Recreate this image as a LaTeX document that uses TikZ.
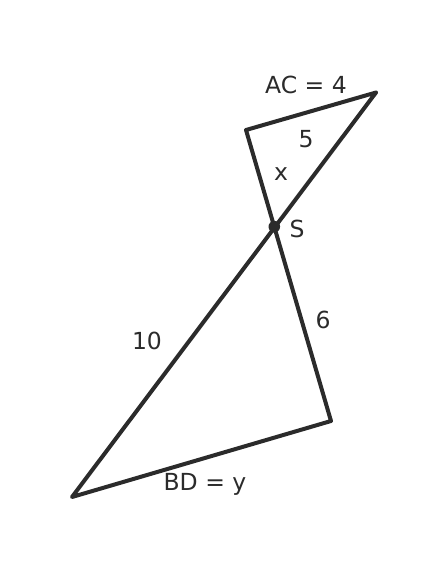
\documentclass[tikz,border=0pt]{standalone}
\usepackage{fontspec}
\setmainfont{DejaVu Sans}
\definecolor{ink}{HTML}{2B2B2B}
\begin{document}
\begin{tikzpicture}[x=1pt,y=-1pt,
  seg/.style={draw=ink,line width=4pt,line cap=round,line join=round},
  lbl/.style={text=ink,font=\fontsize{23.5}{27}\selectfont,inner sep=0pt}]
\useasboundingbox (0,0) rectangle (447,576);
\coordinate (A) at (246,130);
\coordinate (C) at (376,92.5);
\coordinate (S) at (274.3,226.7);
\coordinate (D) at (331,421);
\coordinate (B) at (72,497);
\draw[seg] (C) -- (A) -- (D) -- (B) -- (C);
\fill[ink] (S) circle (5.8pt);
\node[lbl] (lac) at (306,85) {AC = 4};
\node[lbl] (l5) at (306,139) {5};
\node[lbl] (lx) at (281,174) {x};
\node[lbl] (lS) at (297,229) {S};
\node[lbl] (l6) at (323,320) {6};
\node[lbl] (l10) at (147,341) {10};
\node[lbl] (lbd) at (205,484) {BD = y};
\end{tikzpicture}
\end{document}
